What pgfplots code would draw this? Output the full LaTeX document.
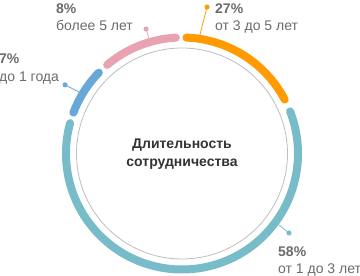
\documentclass[border=0pt]{standalone}
\usepackage{pgfplots}
\pgfplotsset{compat=1.18}
\usepgfplotslibrary{polar}
\usepackage{fontspec}
\setmainfont{Liberation Sans}
\definecolor{corange}{HTML}{FF9A00}
\definecolor{cteal}{HTML}{77BCC8}
\definecolor{cblue}{HTML}{68A8D9}
\definecolor{cpink}{HTML}{E8A2B2}
\definecolor{ctext}{HTML}{6B6B6B}
\definecolor{cdark}{HTML}{333333}
\definecolor{cring}{HTML}{BDBDBD}
\begin{document}
\begin{tikzpicture}[x=1bp,y=1bp]
\path[use as bounding box] (0,0) rectangle (360,276);
\begin{polaraxis}[at={(182bp,122.5bp)}, anchor=origin, hide axis, scale only axis,
  width=232bp, height=232bp, xmin=0, xmax=360, ymin=0, ymax=116, clip=false,
  enlargelimits=false]
% inner thin circle
\addplot[cring, line width=0.8bp, domain=0:360, samples=181] {105.5};
% segments (angles in degrees, counterclockwise from 3 o'clock)
\addplot[corange, line width=8bp, line cap=round, domain=27.7:87.8, samples=40] {116};
\addplot[cteal, line width=8bp, line cap=round, domain=-195.2:21.3, samples=120] {116};
\addplot[cblue, line width=8bp, line cap=round, domain=135.8:159.4, samples=20] {116};
\addplot[cpink, line width=8bp, line cap=round, domain=93.0:130.2, samples=30] {116};
% leader lines with dots
\addplot[corange, line width=0.8bp, mark=*, mark size=2.1bp, mark indices={2}] coordinates {(81.4,120) (80.3,148.6)};
\addplot[cpink, line width=0.8bp, mark=*, mark size=2.1bp, mark indices={2}] coordinates {(106.1,120.5) (106.1,129.6)};
\addplot[cblue, line width=0.8bp, mark=*, mark size=2.1bp, mark indices={2}] coordinates {(149.2,120) (149.6,135.6)};
\addplot[cteal, line width=0.8bp, mark=*, mark size=2.1bp, mark indices={2}] coordinates {(-36.4,120.5) (-36.6,133.3)};
\end{polaraxis}
% centre title
\node[anchor=base, font=\bfseries\fontsize{14bp}{17bp}\selectfont, text=cdark, inner sep=0pt] at (182,128) {Длительность};
\node[anchor=base, font=\bfseries\fontsize{14bp}{17bp}\selectfont, text=cdark, inner sep=0pt] at (182,110) {сотрудничества};
% labels
\begin{scope}[every node/.style={anchor=base west, inner sep=0pt, text=ctext}]
\node[font=\bfseries\fontsize{14bp}{17bp}\selectfont] at (215,262.7) {27\%};
\node[font=\fontsize{14bp}{17bp}\selectfont] at (215,246) {от 3 до 5 лет};
\node[font=\bfseries\fontsize{14bp}{17bp}\selectfont] at (56,262.7) {8\%};
\node[font=\fontsize{14bp}{17bp}\selectfont] at (56,246) {более 5 лет};
\node[font=\bfseries\fontsize{14bp}{17bp}\selectfont] at (-1,212.7) {7\%};
\node[font=\fontsize{14bp}{17bp}\selectfont] at (-1,195) {до 1 года};
\node[font=\bfseries\fontsize{14bp}{17bp}\selectfont] at (278,19.7) {58\%};
\node[font=\fontsize{14bp}{17bp}\selectfont] at (278,3) {от 1 до 3 лет};
\end{scope}
\end{tikzpicture}
\end{document}
